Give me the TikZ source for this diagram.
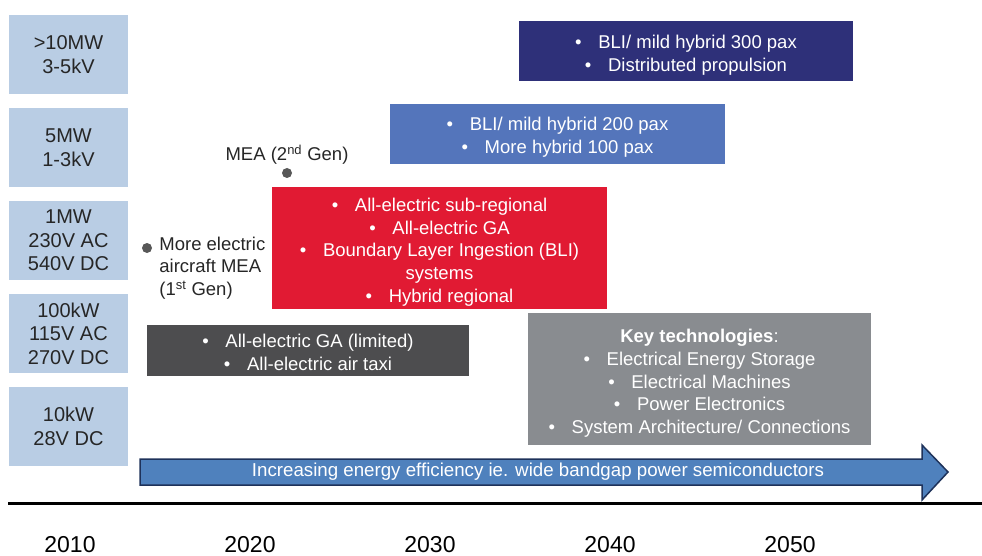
\documentclass[tikz,border=0pt]{standalone}
\usepackage{fontspec}
\setmainfont{Liberation Sans}
\definecolor{powerblue}{RGB}{185, 205, 228}
\definecolor{navyblue}{RGB}{46, 48, 121}
\definecolor{midblue}{RGB}{84, 117, 187}
\definecolor{aerored}{RGB}{225, 26, 51}
\definecolor{darkgrey}{RGB}{77, 77, 79}
\definecolor{techgrey}{RGB}{137, 140, 144}
\definecolor{arrowblue}{RGB}{79, 129, 189}
\definecolor{arrowedge}{RGB}{30, 50, 90}
\definecolor{dotgrey}{RGB}{88, 88, 88}
\usetikzlibrary{positioning}

\newcommand{\itm}[1]{\textbullet\hspace{0.9em}#1}
\newcommand{\topstrut}[1][21.5pt]{\rule{0pt}{#1}}

\tikzset{
  powerbox/.style={fill=powerblue, minimum width=119pt, minimum height=79pt, inner sep=0pt,
    align=center, text=black!85, font=\fontsize{20}{23.5}\selectfont},
  erabox/.style={inner sep=0pt, align=center, text=white, font=\fontsize{18.5}{22.6}\selectfont},
  milestone/.style={circle, fill=dotgrey, inner sep=0pt, minimum size=10pt},
  yearlabel/.style={anchor=base, inner sep=0pt, font=\fontsize{23}{26}\selectfont}
}

\begin{document}
\begin{tikzpicture}[x=1pt, y=-1pt]
  \useasboundingbox (0, 0) rectangle (982, 556);

  % === Power levels (left) ===
  \node[powerbox] (p10mw) at (68.5, 54.5) {>10MW\\3-5kV};
  \node[powerbox] (p5mw) at (68.5, 147.5) {5MW\\1-3kV};
  \node[powerbox] (p1mw) at (68.5, 240.5) {1MW\\230V AC\\540V DC};
  \node[powerbox] (p100kw) at (68.5, 333.5) {100kW\\115V AC\\270V DC};
  \node[powerbox] (p10kw) at (68.5, 426.5) {10kW\\28V DC};

  % === Aircraft concepts ===
  \node[erabox, fill=navyblue, minimum width=334pt, minimum height=60pt] (large) at (686, 51)
    {\topstrut\itm{BLI/ mild hybrid 300 pax}\\\itm{Distributed propulsion}};
  \node[erabox, fill=midblue, minimum width=335pt, minimum height=60pt] (medium) at (557.5, 134)
    {\topstrut[20pt]\itm{BLI/ mild hybrid 200 pax}\\\itm{More hybrid 100 pax}};
  \node[erabox, fill=aerored, minimum width=335pt, minimum height=122pt] (regional) at (439.5, 248)
    {\topstrut\itm{All-electric sub-regional}\\\itm{All-electric GA}\\\itm{Boundary Layer Ingestion (BLI)}\\systems\\\itm{Hybrid regional}};
  \node[erabox, fill=darkgrey, minimum width=322pt, minimum height=51pt] (small) at (308, 350.5)
    {\topstrut[17pt]\itm{All-electric GA (limited)}\\\itm{All-electric air taxi}};
  \node[erabox, fill=techgrey, minimum width=343pt, minimum height=132pt] (keytech) at (699.5, 379)
    {\topstrut[22pt]\textbf{Key technologies}:\\\itm{Electrical Energy Storage}\\\itm{Electrical Machines}\\\itm{Power Electronics}\\\itm{System Architecture/ Connections}};

  % MEA milestones
  \node[milestone] (meaone) at (147, 248) {};
  \node[erabox, text=black!85, align=left, anchor=west, right=7pt of meaone, yshift=-20pt] (meaonetext)
    {More electric\\aircraft MEA\\(1\textsuperscript{st} Gen)};
  \node[milestone] (meatwo) at (287, 173) {};
  \node[erabox, text=black!85, above=3pt of meatwo] (meatwotext) {MEA (2\textsuperscript{nd} Gen)};

  % === Efficiency arrow ===
  \draw[arrowedge, line width=1.5pt, fill=arrowblue, line join=miter]
    (140, 459) -- (922, 459) -- (922, 445) -- (948, 472) -- (922, 500) -- (922, 485) -- (140, 485) -- cycle;
  \node[erabox, font=\fontsize{18.7}{21}\selectfont] (effarrow) at (538, 472)
    {Increasing energy efficiency ie. wide bandgap power semiconductors};

  % === Time axis ===
  \coordinate (axisstart) at (8, 503);
  \coordinate (axisend) at (982, 503);
  \draw[line width=3pt] (axisstart) -- (axisend);
  \foreach \yr/\xpos in {2010/70, 2020/250, 2030/430, 2040/610, 2050/790}
    \node[yearlabel] (y\yr) at (\xpos, 552) {\yr};
\end{tikzpicture}
\end{document}
